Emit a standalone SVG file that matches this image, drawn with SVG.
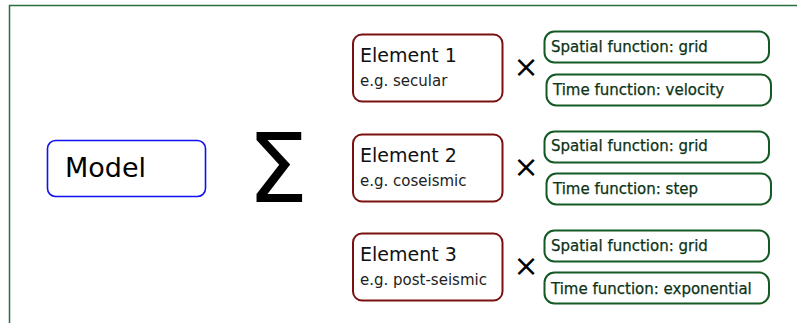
<svg xmlns="http://www.w3.org/2000/svg" width="797" height="323" viewBox="0 0 797 323">
<style>
.frame{fill:none;stroke:#2b6e3f;stroke-width:1.5}
.model{fill:#fff;stroke:#1010f0;stroke-width:1.6}
.elem{fill:#fff;stroke:#7a1010;stroke-width:2}
.fn{fill:#fff;stroke:#145a25;stroke-width:2}
.t{font-family:"DejaVu Sans",sans-serif}
.big{font-size:27px;fill:#000}
.et{font-size:19px;fill:#111}
.es{font-size:15px;fill:#222}
.ft{font-size:15px;fill:#0c3315;stroke:#0c3315;stroke-width:0.25}
.x{font-size:30px;fill:#000}
</style>
<rect width="797" height="323" fill="#fff"/>
<path class="frame" d="M9.5,323 V5.5 H797"/>
<g id="model">
<rect class="model" x="47.5" y="140.5" width="158" height="56" rx="8"/>
<text class="t big" x="65" y="177">Model</text>
</g>
<g id="sum">
<text class="t" x="247" y="202" font-size="97" fill="#000">Σ</text>
</g>
<g id="element1">
<rect class="elem" x="353" y="34.5" width="149.5" height="67" rx="9"/>
<text class="t et" x="360" y="62">Element 1</text>
<text class="t es" x="360" y="86">e.g. secular</text>
</g>
<g id="element2">
<rect class="elem" x="353" y="134.5" width="149.5" height="67" rx="9"/>
<text class="t et" x="360" y="162">Element 2</text>
<text class="t es" x="360" y="186">e.g. coseismic</text>
</g>
<g id="element3">
<rect class="elem" x="353" y="233.5" width="149.5" height="67" rx="9"/>
<text class="t et" x="360" y="261">Element 3</text>
<text class="t es" x="360" y="285">e.g. post-seismic</text>
</g>
<g id="times">
<text class="t x" x="526" y="77" text-anchor="middle">×</text>
<text class="t x" x="526" y="177" text-anchor="middle">×</text>
<text class="t x" x="526" y="276" text-anchor="middle">×</text>
</g>
<g id="spatial1">
<rect class="fn" x="544.5" y="31.5" width="224.5" height="31" rx="10"/>
<text class="t ft" x="551" y="52">Spatial function: grid</text>
</g>
<g id="time1">
<rect class="fn" x="546.5" y="74.5" width="224.5" height="31" rx="10"/>
<text class="t ft" x="553" y="95">Time function: velocity</text>
</g>
<g id="spatial2">
<rect class="fn" x="544.5" y="131.5" width="224.5" height="31" rx="10"/>
<text class="t ft" x="551" y="151">Spatial function: grid</text>
</g>
<g id="time2">
<rect class="fn" x="546.5" y="173.5" width="224.5" height="31" rx="10"/>
<text class="t ft" x="553" y="194">Time function: step</text>
</g>
<g id="spatial3">
<rect class="fn" x="544.5" y="230.5" width="224.5" height="31" rx="10"/>
<text class="t ft" x="551" y="251">Spatial function: grid</text>
</g>
<g id="time3">
<rect class="fn" x="544.5" y="272.5" width="224.5" height="31" rx="10"/>
<text class="t ft" x="551" y="294">Time function: exponential</text>
</g>
<g id="connectors"></g>
</svg>
